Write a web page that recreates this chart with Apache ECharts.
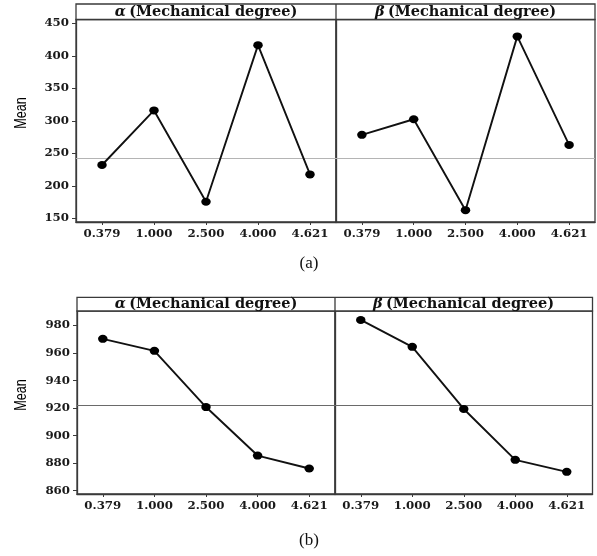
<!DOCTYPE html>
<html>
<head>
<meta charset="utf-8">
<script src="https://cdn.jsdelivr.net/npm/echarts@6/dist/echarts.min.js"></script>
<style>
  html, body { margin: 0; padding: 0; background: #fff; }
  #chart { width: 597px; height: 556px; }
</style>
</head>
<body>
<div id="chart"></div>
<script>
// Factor levels (x categories, shared by every panel)
const levels = ['0.379', '1.000', '2.500', '4.000', '4.621'];

// (a) level means
const alphaMeansA = [232, 316, 175.5, 416.5, 217.5];
const betaMeansA = [278.5, 302.5, 162.5, 430, 263];
const grandMeanA = 241.7;
const yTicksA = [150, 200, 250, 300, 350, 400, 450];

// (b) level means
const alphaMeansB = [970.2, 961.5, 920.7, 885.5, 876.1];
const betaMeansB = [983.9, 964.4, 919.3, 882.4, 873.7];
const grandMeanB = 921.7;
const yTicksB = [860, 880, 900, 920, 940, 960, 980];

const BORDER = '#3a3a3a';
const SERIF = "'DejaVu Serif', 'Liberation Serif', serif";
const tickFont = { fontFamily: SERIF, fontWeight: 'bold', fontSize: 11.8, color: '#1a1a1a' };

const chart = echarts.init(document.getElementById('chart'), null, { renderer: 'canvas' });

// plot rectangles (below the strip headers)
const panels = [
  { left: 76, top: 19.5, width: 260, height: 202.5 },
  { left: 336, top: 19.5, width: 259, height: 202.5 },
  { left: 77, top: 311, width: 258, height: 183 },
  { left: 335, top: 311, width: 257.5, height: 183 }
];

const grids = panels.map(p => ({
  left: p.left, top: p.top, width: p.width, height: p.height,
  show: true, borderColor: BORDER, borderWidth: 1.3, backgroundColor: '#fff',
  containLabel: false
}));

const xAxes = panels.map((p, i) => ({
  type: 'category', gridIndex: i, data: levels, boundaryGap: true,
  axisLine: { show: true, lineStyle: { color: BORDER, width: 1.3 } },
  axisTick: { show: true, alignWithLabel: true, length: 3, lineStyle: { color: BORDER } },
  axisLabel: Object.assign({ margin: 6 }, tickFont),
  splitLine: { show: false }
}));

function yAxis(i, lo, hi, ticks, showLabels) {
  return {
    type: 'value', gridIndex: i, min: lo, max: hi,
    axisLine: { show: true, lineStyle: { color: BORDER, width: 1.3 } },
    axisTick: { show: showLabels, length: 4, customValues: ticks, lineStyle: { color: BORDER } },
    axisLabel: Object.assign({ show: showLabels, margin: 7, customValues: ticks }, tickFont),
    splitLine: { show: false }
  };
}

const yAxes = [
  yAxis(0, 144.3, 456, yTicksA, true),
  yAxis(1, 144.3, 456, yTicksA, false),
  yAxis(2, 857.6, 990.4, yTicksB, true),
  yAxis(3, 857.6, 990.4, yTicksB, false)
];

function meanSeries(i, data, ref, refColor) {
  return {
    type: 'line', xAxisIndex: i, yAxisIndex: i, data: data,
    symbol: 'circle', symbolSize: [9.5, 8],
    itemStyle: { color: '#000' },
    lineStyle: { color: '#111', width: 1.9 },
    z: 3,
    markLine: {
      silent: true, symbol: 'none', label: { show: false },
      lineStyle: { color: refColor, width: 1, type: 'solid' },
      data: [{ yAxis: ref }], z: 1
    }
  };
}

const series = [
  meanSeries(0, alphaMeansA, grandMeanA, '#b4b4b4'),
  meanSeries(1, betaMeansA, grandMeanA, '#b4b4b4'),
  meanSeries(2, alphaMeansB, grandMeanB, '#6a6a6a'),
  meanSeries(3, betaMeansB, grandMeanB, '#6a6a6a')
];

// strip headers above each pair of panels
function strip(x0, xMid, x1, y0, y1) {
  return [
    { type: 'rect', shape: { x: x0, y: y0, width: x1 - x0, height: y1 - y0 },
      style: { fill: '#fff', stroke: BORDER, lineWidth: 1.3 }, z: 10 },
    { type: 'line', shape: { x1: xMid, y1: y0, x2: xMid, y2: y1 },
      style: { stroke: BORDER, lineWidth: 1.3 }, z: 11 }
  ];
}

function stripText(cx, cy, greek) {
  return {
    type: 'text', x: cx, y: cy, z: 12,
    style: {
      text: '{g|' + greek + '} {t|(Mechanical degree)}',
      align: 'center', verticalAlign: 'middle',
      rich: {
        g: { fontFamily: SERIF, fontStyle: 'italic', fontWeight: 'bold', fontSize: 14.5, fill: '#111' },
        t: { fontFamily: SERIF, fontWeight: 'bold', fontSize: 14.5, fill: '#111' }
      }
    }
  };
}

// condensed vertical axis title
function meanLabel(cy) {
  return {
    type: 'text', x: 21.5, y: cy, rotation: Math.PI / 2, scaleX: 0.74, z: 12,
    style: {
      text: 'Mean', align: 'center', verticalAlign: 'middle',
      fontFamily: "'Liberation Sans', sans-serif",
      fontSize: 17, fill: '#000'
    }
  };
}

function caption(txt, cy) {
  return {
    type: 'text', x: 309, y: cy, z: 12,
    style: {
      text: txt, align: 'center', verticalAlign: 'middle',
      fontFamily: "'Liberation Serif', serif", fontSize: 17, fill: '#111'
    }
  };
}

const graphic = [].concat(
  strip(76, 336, 595, 4, 19.5),
  strip(77, 335, 592.5, 297.3, 311),
  [
    stripText(206, 12, 'α'),
    stripText(465.5, 12, 'β'),
    stripText(206, 304.5, 'α'),
    stripText(463.5, 304.5, 'β'),
    meanLabel(113),
    meanLabel(395),
    caption('(a)', 264),
    caption('(b)', 541)
  ]
);

chart.setOption({
  backgroundColor: '#fff',
  animation: false,
  grid: grids,
  xAxis: xAxes,
  yAxis: yAxes,
  series: series,
  graphic: graphic
});
</script>
</body>
</html>
